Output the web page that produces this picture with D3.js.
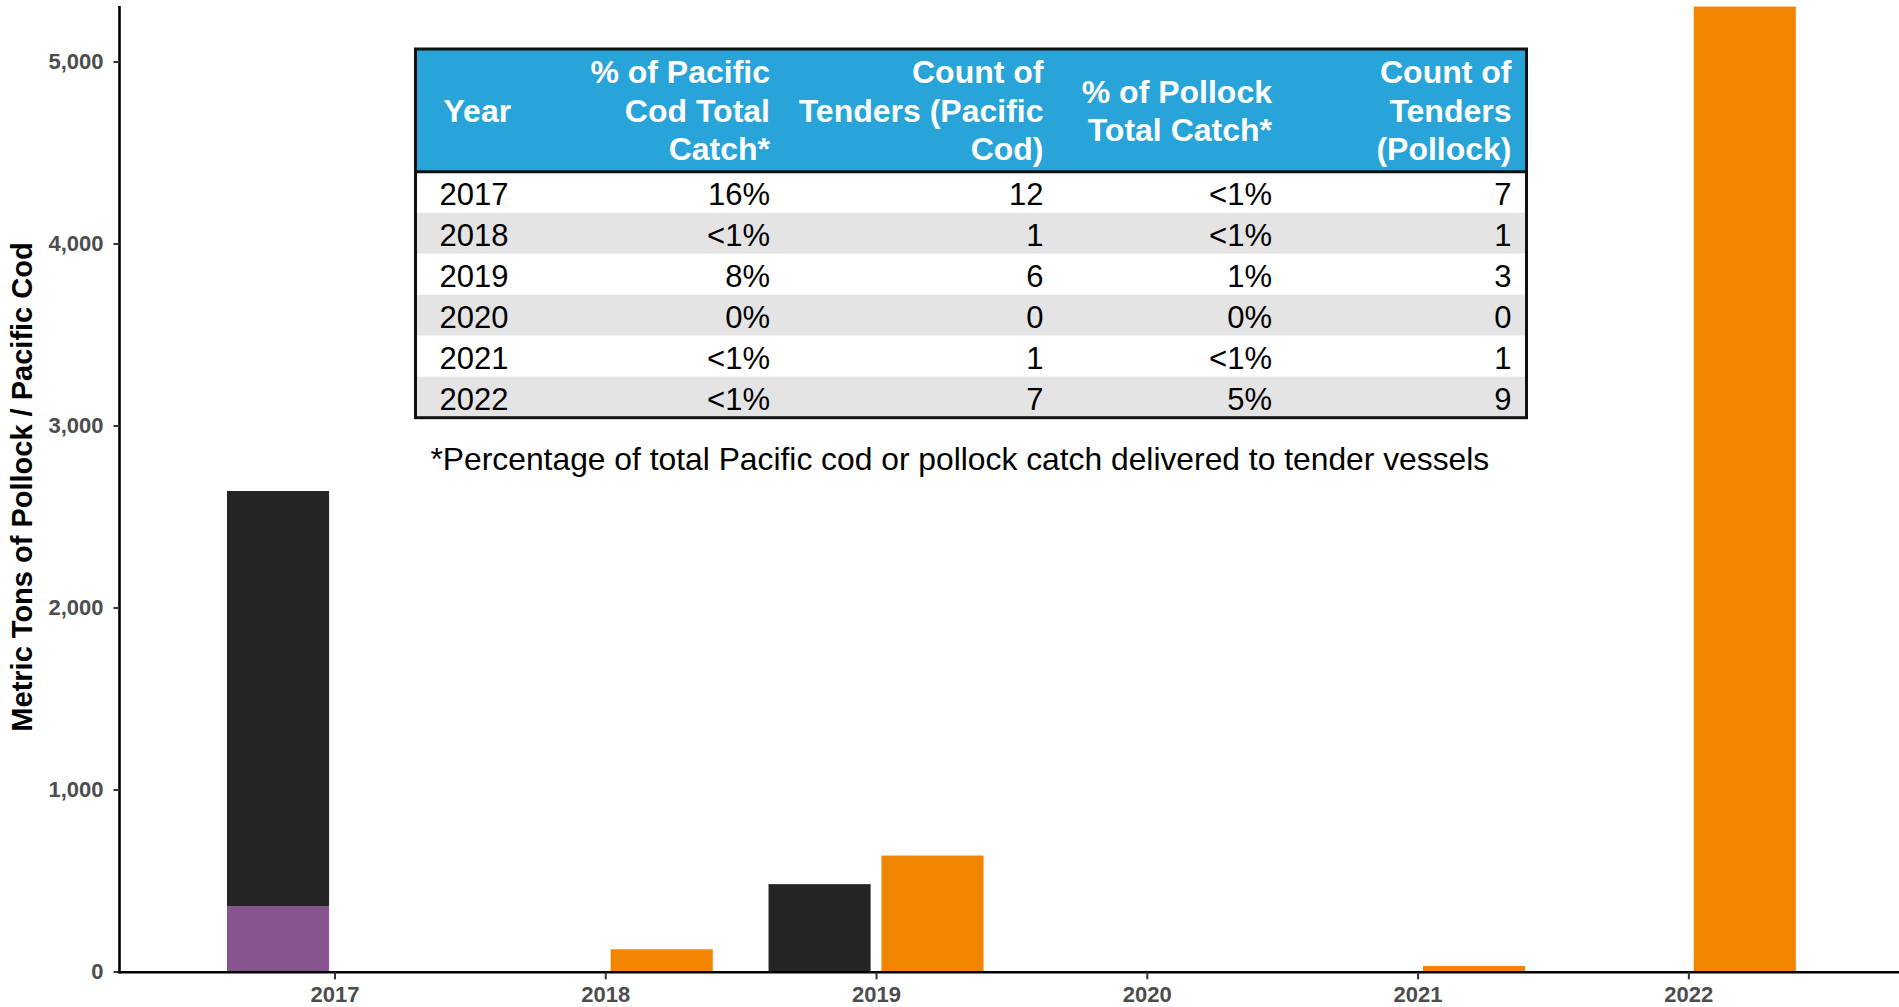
<!DOCTYPE html>
<html>
<head>
<meta charset="utf-8">
<script src="https://cdn.jsdelivr.net/npm/d3@7"></script>
<style>
  body { margin: 0; background: #fff; }
  svg { display: block; font-family: "Liberation Sans", Arial, sans-serif; }
</style>
</head>
<body>
<svg id="chart" width="1899" height="1007"></svg>
<script>
// bar data, metric tons per year
var years = [2017, 2018, 2019, 2020, 2021, 2022];
var codLower = [360, 0, 0, 0, 0, 0];       // purple part of the cod bar
var codUpper = [2280, 0, 480, 0, 0, 0];    // black part, stacked on top
var pollock = [0, 122, 637, 0, 30, 5302];  // orange bars
var yTicks = [0, 1000, 2000, 3000, 4000, 5000];

// table data
var tableHeaders = [
  ["Year"],
  ["% of Pacific", "Cod Total", "Catch*"],
  ["Count of", "Tenders (Pacific", "Cod)"],
  ["% of Pollock", "Total Catch*"],
  ["Count of", "Tenders", "(Pollock)"]
];
var tableYears = ["2017", "2018", "2019", "2020", "2021", "2022"];
var codPct = ["16%", "<1%", "8%", "0%", "<1%", "<1%"];
var codTenders = ["12", "1", "6", "0", "1", "7"];
var pollockPct = ["<1%", "<1%", "1%", "0%", "<1%", "5%"];
var pollockTenders = ["7", "1", "3", "0", "1", "9"];
var footnote = "*Percentage of total Pacific cod or pollock catch delivered to tender vessels";

var svg = d3.select("#chart");

// plot box (note: "top" is reserved on window, so prefixed names)
var plotL = 119.5, plotR = 1899, plotT = 6, plotB = 971.5;

var x = d3.scaleLinear()
  .domain([2016.206, 2022.778])
  .range([plotL, plotR]);

var y = d3.scaleLinear()
  .domain([0, 5305])
  .range([plotB, plotT]);

// bar width and dodge offset in years
var barW = 0.377, dodge = 0.2085;

var rows = years.map(function(yr, i) {
  return { year: yr, low: codLower[i], up: codUpper[i], pol: pollock[i] };
});

var bars = svg.append("g");

// cod bars on the left, purple then black on top
bars.selectAll("rect.low")
  .data(rows.filter(function(d) { return d.low > 0; }))
  .enter().append("rect")
  .attr("x", function(d) { return x(d.year - dodge - barW / 2); })
  .attr("width", function(d) { return x(d.year + barW) - x(d.year); })
  .attr("y", function(d) { return y(d.low); })
  .attr("height", function(d) { return y(0) - y(d.low); })
  .attr("fill", "#87548f");

bars.selectAll("rect.up")
  .data(rows.filter(function(d) { return d.up > 0; }))
  .enter().append("rect")
  .attr("x", function(d) { return x(d.year - dodge - barW / 2); })
  .attr("width", function(d) { return x(d.year + barW) - x(d.year); })
  .attr("y", function(d) { return y(d.low + d.up); })
  .attr("height", function(d) { return y(d.low) - y(d.low + d.up); })
  .attr("fill", "#242424");

// pollock bars on the right
bars.selectAll("rect.pol")
  .data(rows.filter(function(d) { return d.pol > 0; }))
  .enter().append("rect")
  .attr("x", function(d) { return x(d.year + dodge - barW / 2); })
  .attr("width", function(d) { return x(d.year + barW) - x(d.year); })
  .attr("y", function(d) { return y(d.pol); })
  .attr("height", function(d) { return y(0) - y(d.pol); })
  .attr("fill", "#f28500");

// axes
var yAxis = svg.append("g")
  .attr("transform", "translate(" + plotL + ",0)")
  .call(d3.axisLeft(y).tickValues(yTicks).tickFormat(d3.format(",")).tickSize(6).tickPadding(10));

var xAxis = svg.append("g")
  .attr("transform", "translate(0," + (plotB + 0.8) + ")")
  .call(d3.axisBottom(x).tickValues(years).tickFormat(d3.format("d")).tickSize(7).tickPadding(7));

[yAxis, xAxis].forEach(function(g) {
  g.select(".domain").attr("stroke", "#000").attr("stroke-width", 2.6);
  g.selectAll(".tick line").attr("stroke", "#333").attr("stroke-width", 2);
  g.selectAll(".tick text")
    .attr("fill", "#4d4d4d")
    .attr("font-size", 22)
    .attr("font-weight", "bold")
    .attr("font-family", "'Liberation Sans', Arial, sans-serif");
});
// make the axis lines run flush, without outer ticks
yAxis.select(".domain").attr("d", "M0," + plotT + "V" + (plotB + 2));
xAxis.select(".domain").attr("d", "M" + (plotL - 1) + ",0H" + plotR);

svg.append("text")
  .attr("transform", "translate(32,487) rotate(-90)")
  .attr("text-anchor", "middle")
  .attr("font-size", 29)
  .attr("font-weight", "bold")
  .attr("fill", "#000")
  .text("Metric Tons of Pollock / Pacific Cod");

// table
var tLeft = 415.5, tRight = 1526.5, tTop = 49, headH = 122.7, rowH = 41;
var colX = [439.5, 770, 1043.5, 1272, 1511.5];
var table = svg.append("g");

table.append("rect")
  .attr("x", tLeft).attr("y", tTop)
  .attr("width", tRight - tLeft).attr("height", headH)
  .attr("fill", "#28a4d9");

var columns = [tableYears, codPct, codTenders, pollockPct, pollockTenders];

table.selectAll("rect.row")
  .data(tableYears)
  .enter().append("rect")
  .attr("x", tLeft)
  .attr("y", function(d, i) { return tTop + headH + i * rowH; })
  .attr("width", tRight - tLeft)
  .attr("height", rowH)
  .attr("fill", function(d, i) { return i % 2 ? "#e4e4e4" : "#fff"; });

// header text, lines centred in the header band
tableHeaders.forEach(function(lines, c) {
  var lineH = 38.5;
  var mid = tTop + headH / 2 + 11.5;
  var first = mid - (lines.length - 1) * lineH / 2;
  var hx = c === 0 ? colX[0] + 4 : colX[c];
  table.append("text")
    .attr("x", hx)
    .attr("text-anchor", c === 0 ? "start" : "end")
    .attr("font-size", 32)
    .attr("font-weight", "bold")
    .attr("fill", "#fff")
    .selectAll("tspan")
    .data(lines)
    .enter().append("tspan")
    .attr("x", hx)
    .attr("y", function(d, i) { return first + i * lineH; })
    .text(function(d) { return d; });
});

columns.forEach(function(vals, c) {
  table.selectAll("text.c" + c)
    .data(vals)
    .enter().append("text")
    .attr("class", "c" + c)
    .attr("x", colX[c])
    .attr("y", function(d, i) { return tTop + headH + i * rowH + 33.5; })
    .attr("text-anchor", c === 0 ? "start" : "end")
    .attr("font-size", 31)
    .attr("fill", "#000")
    .text(function(d) { return d; });
});

var tBottom = tTop + headH + tableYears.length * rowH;
table.append("line")
  .attr("x1", tLeft).attr("x2", tRight)
  .attr("y1", tTop + headH).attr("y2", tTop + headH)
  .attr("stroke", "#111").attr("stroke-width", 3);
table.append("rect")
  .attr("x", tLeft).attr("y", tTop)
  .attr("width", tRight - tLeft).attr("height", tBottom - tTop)
  .attr("fill", "none")
  .attr("stroke", "#111")
  .attr("stroke-width", 3);

svg.append("text")
  .attr("x", 430.5)
  .attr("y", 470)
  .attr("font-size", 31.8)
  .attr("fill", "#000")
  .text(footnote);
</script>
</body>
</html>
